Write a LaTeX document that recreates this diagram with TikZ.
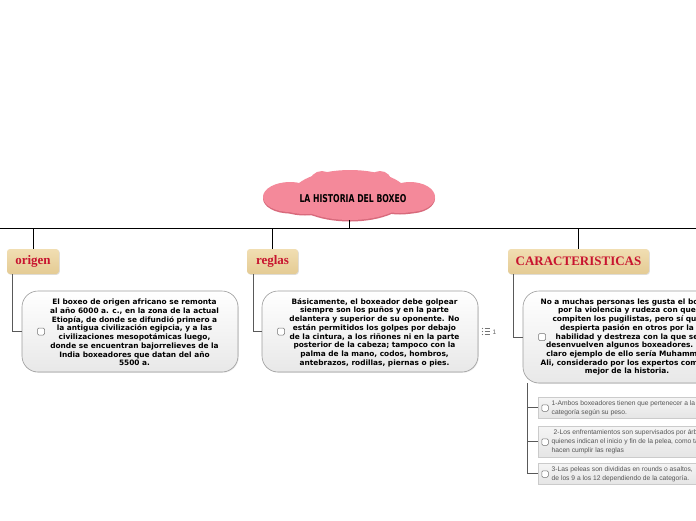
\documentclass[tikz,border=0pt]{standalone}
\usepackage{fontspec}
\usepackage{graphicx}
\usetikzlibrary{shadows,calc}
\newfontfamily\bodyfont{DejaVu Sans}
\newfontfamily\topicfont{Liberation Serif}
\newfontfamily\titlefont{DejaVu Sans}
\newfontfamily\itemfont{Liberation Sans}
\definecolor{cloudpink}{HTML}{F4899A}
\definecolor{cloudshade}{HTML}{D86A7C}
\definecolor{tantop}{HTML}{F1DEB2}
\definecolor{tanbot}{HTML}{E4CB94}
\definecolor{topicred}{HTML}{C8142F}
\definecolor{boxline}{HTML}{9C9C9C}
\definecolor{itemline}{HTML}{CBCBCB}
\definecolor{itemtext}{HTML}{555555}
\tikzset{
  topicbox/.style={draw=none, rounded corners=3pt, top color=tantop, bottom color=tanbot,
    minimum height=25pt, inner sep=0pt, text=topicred,
    font=\topicfont\bfseries\fontsize{13}{13}\selectfont,
    drop shadow={opacity=0.25, shadow xshift=0.8pt, shadow yshift=-0.8pt}},
  bodybox/.style={draw=boxline, line width=0.6pt, rounded corners=16pt, top color=white,
    bottom color=black!9, inner sep=0pt,
    drop shadow={opacity=0.15, shadow xshift=0.8pt, shadow yshift=-0.8pt}},
  bodytext/.style={align=center, inner sep=0pt, text=black,
    font=\bodyfont\bfseries\fontsize{7.4}{8.7}\selectfont},
  chkbox/.style={draw=black!55, line width=0.5pt, fill=white, rounded corners=1.2pt,
    minimum width=7pt, minimum height=7pt, inner sep=0pt},
  itembox/.style={draw=itemline, line width=0.5pt, top color=black!4, bottom color=black!10,
    inner sep=0pt, anchor=west, minimum width=230pt},
  itemtext/.style={align=left, inner sep=0pt, anchor=west, text=itemtext,
    font=\itemfont\fontsize{6.7}{9}\selectfont},
  conn/.style={draw=black, line width=1pt},
  subconn/.style={draw=black!65, line width=0.6pt},
  cloudpart/.pic={
    \fill (350,195) ellipse [x radius=58, y radius=25];
    \fill (290,197) ellipse [x radius=27, y radius=15];
    \fill (410,197) ellipse [x radius=25, y radius=15];
    \fill (305,204) ellipse [x radius=26, y radius=10];
    \fill (400,203) ellipse [x radius=26, y radius=10];
    \fill (322,184) circle [radius=13];
    \fill (380,183) circle [radius=12];
  },
}
\begin{document}
\begin{tikzpicture}[x=1pt,y=-1pt]
\clip (0,0) rectangle (696,520);
\fill[white] (0,0) rectangle (696,520);

% main horizontal line
\coordinate (mainL) at (0,228);
\coordinate (mainR) at (696,228);
\draw[conn] (mainL) -- (mainR);

% title cloud
\begin{scope}[cloudshade, yshift=-1.5pt]
  \pic {cloudpart};
\end{scope}
\begin{scope}[cloudpink]
  \pic {cloudpart};
\end{scope}
\coordinate (cloudbot) at (349,220);
\node[inner sep=0pt] (title) at (353,199)
  {\resizebox{107pt}{8pt}{\titlefont\bfseries LA HISTORIA DEL BOXEO}};
\draw[conn] (cloudbot) -- (cloudbot |- mainL);

% topic nodes
\node[topicbox, minimum width=52pt] (origen) at (33,261.5) {origen};
\node[topicbox, minimum width=51pt] (reglas) at (272.5,261.5) {reglas};
\node[topicbox, minimum width=141pt] (caract) at (578.5,261.5) {CARACTERISTICAS};
\draw[conn] (origen.north) -- (origen.north |- mainL);
\draw[conn] (reglas.north) -- (reglas.north |- mainL);
\draw[conn] (caract.north) -- (caract.north |- mainL);

% body boxes
\node[bodybox, minimum width=216pt, minimum height=81pt] (body1) at (130,331.5) {};
\node[bodybox, minimum width=216pt, minimum height=81pt] (body2) at (370,331.5) {};
\node[bodybox, minimum width=217pt, minimum height=92pt] (body3) at (631.5,337) {};

\draw[subconn] ([xshift=-21pt]origen.south) |- (body1.west);
\draw[subconn] ([xshift=-19.5pt]reglas.south) |- (body2.west);
\draw[subconn] ([xshift=-65.5pt]caract.south) |- (body3.west);

\node[chkbox] (chk1) at (41,331.5) {};
\node[chkbox] (chk2) at (281,331.5) {};
\node[chkbox] (chk3) at (542,337) {};

\node[bodytext] (text1) at (134.5,332.5) {El boxeo de origen africano se remonta\\
al año 6000 a. c., en la zona de la actual\\
Etiopía, de donde se difundió primero a\\
la antigua civilización egipcia, y a las\\
civilizaciones mesopotámicas luego,\\
donde se encuentran bajorrelieves de la\\
India boxeadores que datan del año\\
5500 a.};

\node[bodytext] (text2) at (374.5,332.5) {Básicamente, el boxeador debe golpear\\
siempre son los puños y en la parte\\
delantera y superior de su oponente. No\\
están permitidos los golpes por debajo\\
de la cintura, a los riñones ni en la parte\\
posterior de la cabeza; tampoco con la\\
palma de la mano, codos, hombros,\\
antebrazos, rodillas, piernas o pies.};

\node[bodytext] (text3) at (627,337) {No a muchas personas les gusta el boxeo\\
por la violencia y rudeza con que\\
compiten los pugilistas, pero sí que\\
despierta pasión en otros por la\\
habilidad y destreza con la que se\\
desenvuelven algunos boxeadores. Un\\
claro ejemplo de ello sería Muhammad\\
Ali, considerado por los expertos como el\\
mejor de la historia.};

% list icon next to reglas box
\foreach \yy in {328.5,331.5,334.5} {
  \fill[black!55] (482.5,\yy) circle (0.6pt);
  \draw[black!55, line width=0.7pt] (484.5,\yy) -- (490,\yy);
}
\node[inner sep=0pt, text=black!60, font=\itemfont\fontsize{6.5}{6.5}\selectfont] (listcount) at (494.5,332) {1};

% sub items
\node[itembox, minimum height=21pt] (item1) at (538,407.5) {};
\node[itembox, minimum height=31pt] (item2) at (538,441.5) {};
\node[itembox, minimum height=21pt] (item3) at (538,473.5) {};
\draw[subconn] ([xshift=5pt]body3.south west) |- (item1.west);
\draw[subconn] ([xshift=5pt]body3.south west) |- (item2.west);
\draw[subconn] ([xshift=5pt]body3.south west) |- (item3.west);

\node[chkbox, minimum width=6.5pt, minimum height=6.5pt] (ic1) at (545,408) {};
\node[chkbox, minimum width=6.5pt, minimum height=6.5pt] (ic2) at (545,442) {};
\node[chkbox, minimum width=6.5pt, minimum height=6.5pt] (ic3) at (545,474) {};

\node[itemtext] (it1) at (551.5,408.5) {1-Ambos boxeadores tienen que pertenecer a la\\
categoría según su peso.};
\node[itemtext] (it2) at (551.5,442) {\hspace*{2pt}2-Los enfrentamientos son supervisados por árbitros,\\
quienes indican el inicio y fin de la pelea, como también\\
hacen cumplir las reglas};
\node[itemtext] (it3) at (551.5,474) {3-Las peleas son divididas en rounds o asaltos,\\
de los 9 a los 12 dependiendo de la categoría.};
\end{tikzpicture}
\end{document}
